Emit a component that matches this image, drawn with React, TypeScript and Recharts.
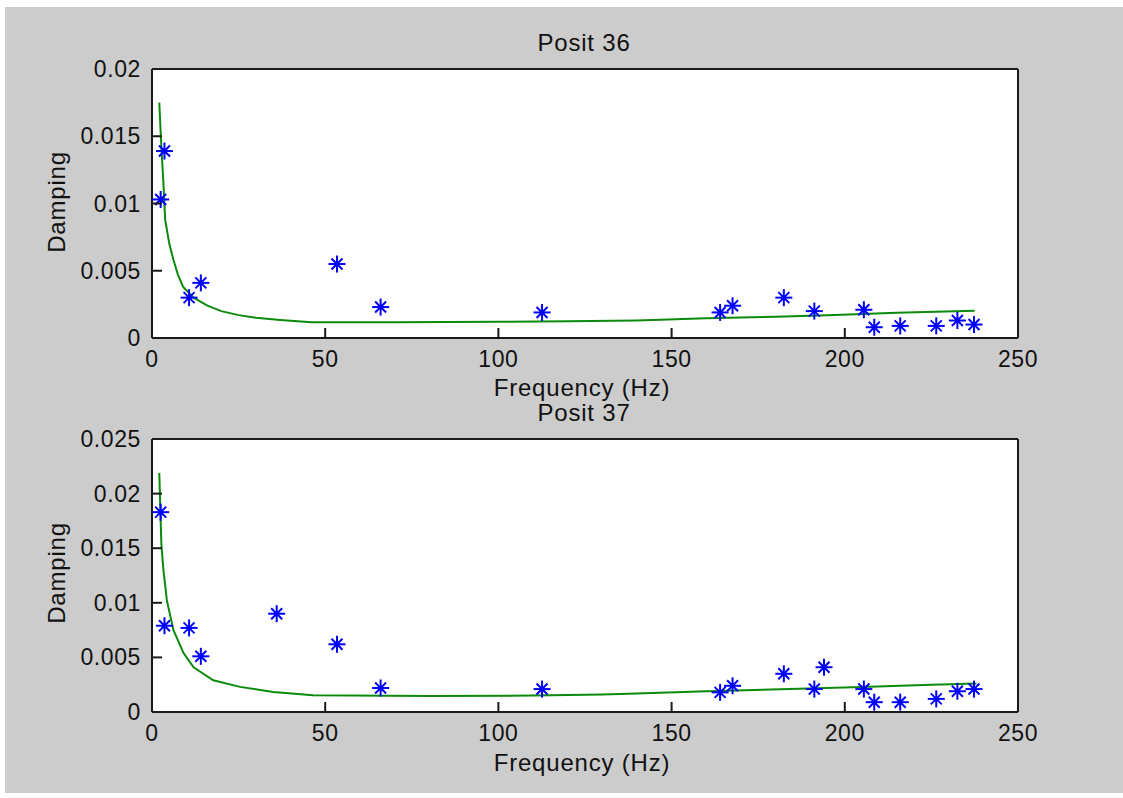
import { CartesianGrid, ComposedChart, Line, Scatter, XAxis, YAxis } from "recharts";

// natural frequencies (Hz) of the identified modes
const FREQ_36 = [2.5, 3.6, 10.7, 14.1, 53.4, 66, 112.6, 164, 167.6, 182.4, 191.2, 205.5, 208.5, 216, 226.4, 232.5, 237.3];
const DAMP_36 = [0.0103, 0.0139, 0.003, 0.0041, 0.0055, 0.0023, 0.0019, 0.0019, 0.0024, 0.003, 0.002, 0.0021, 0.0008, 0.0009, 0.0009, 0.0013, 0.001];

const FREQ_37 = [2.5, 3.6, 10.7, 14.1, 36, 53.4, 66, 112.6, 164, 167.6, 182.4, 191.2, 194, 205.5, 208.5, 216, 226.4, 232.5, 237.3];
const DAMP_37 = [0.0183, 0.0079, 0.0077, 0.0051, 0.009, 0.0062, 0.0022, 0.0021, 0.0018, 0.0024, 0.0035, 0.0021, 0.0041, 0.0021, 0.0009, 0.0009, 0.0012, 0.0019, 0.0021];

// fitted damping curve
const FIT_FREQ_36 = [2.1, 2.7, 3.2, 3.8, 5, 6.2, 7.5, 9, 12, 16, 20, 25, 30, 37, 46, 70, 100, 120, 140, 160, 180, 195, 215, 237.5];
const FIT_DAMP_36 = [0.0175, 0.0142, 0.012, 0.0088, 0.007, 0.0058, 0.0047, 0.0038, 0.003, 0.0024, 0.002, 0.0017, 0.0015, 0.00134, 0.00118, 0.00117, 0.0012, 0.00125, 0.0013, 0.00146, 0.00158, 0.0017, 0.00188, 0.00203];

const FIT_FREQ_37 = [2.1, 2.7, 3.3, 4.3, 6.2, 9.1, 12, 17.7, 25.4, 35, 46.5, 80, 110, 130, 140, 160, 184, 205, 225, 238];
const FIT_DAMP_37 = [0.0219, 0.0154, 0.013, 0.0102, 0.0075, 0.0054, 0.0041, 0.0029, 0.0023, 0.00183, 0.00153, 0.00147, 0.0015, 0.0016, 0.0017, 0.0019, 0.0021, 0.0023, 0.0025, 0.0026];

const X_TICKS = [0, 50, 100, 150, 200, 250];
const Y_TICKS_36 = [0, 0.005, 0.01, 0.015, 0.02];
const Y_TICKS_37 = [0, 0.005, 0.01, 0.015, 0.02, 0.025];

const AXIS = "#1a1a1a";
const FONT = "'Liberation Sans', Arial, sans-serif";
const TICK_LEN = 10;

const zip = (xs: number[], ys: number[]) => xs.map((f, i) => ({ f, d: ys[i] }));

const Star = (props: any) => {
  const { cx, cy } = props;
  if (cx == null || cy == null) return null;
  const a = 8.5;
  const b = 5.5;
  return (
    <g stroke="#0000ff" strokeWidth={2} strokeLinecap="butt">
      <line x1={cx - a} y1={cy} x2={cx + a} y2={cy} />
      <line x1={cx} y1={cy - a} x2={cx} y2={cy + a} />
      <line x1={cx - b} y1={cy - b} x2={cx + b} y2={cy + b} />
      <line x1={cx - b} y1={cy + b} x2={cx + b} y2={cy - b} />
      <circle cx={cx} cy={cy} r={2.5} fill="#0000ff" stroke="none" />
    </g>
  );
};

const textStyle = { fontFamily: FONT, fontSize: 23, fill: "#111", letterSpacing: 0.6 };

const BottomTick = (p: any) => (
  <g>
    <line x1={p.x} y1={p.y} x2={p.x} y2={p.y - TICK_LEN} stroke={AXIS} strokeWidth={2} />
    <text x={p.x} y={p.y + 29} textAnchor="middle" style={textStyle}>
      {p.payload.value}
    </text>
  </g>
);

const TopTick = (p: any) => (
  <line x1={p.x} y1={p.y} x2={p.x} y2={p.y + TICK_LEN} stroke={AXIS} strokeWidth={2} />
);

const LeftTick = (p: any) => (
  <g>
    <line x1={p.x} y1={p.y} x2={p.x + TICK_LEN} y2={p.y} stroke={AXIS} strokeWidth={2} />
    <text x={p.x - 11} y={p.y + 8} textAnchor="end" style={textStyle}>
      {p.payload.value}
    </text>
  </g>
);

const RightTick = (p: any) => (
  <line x1={p.x} y1={p.y} x2={p.x - TICK_LEN} y2={p.y} stroke={AXIS} strokeWidth={2} />
);

interface PanelProps {
  points: { f: number; d: number }[];
  fit: { f: number; d: number }[];
  yTicks: number[];
  height: number;
  top: number;
  bottom: number;
}

function Panel({ points, fit, yTicks, height, top, bottom }: PanelProps) {
  const yMax = yTicks[yTicks.length - 1];
  const axisLine = { stroke: AXIS, strokeWidth: 2 };
  return (
    <ComposedChart
      width={1123}
      height={height}
      margin={{ top: top - 1, bottom: bottom - 1, left: 151, right: 104 }}
    >
      <CartesianGrid fill="#ffffff" horizontal={false} vertical={false} />
      <XAxis
        dataKey="f"
        type="number"
        domain={[0, 250]}
        ticks={X_TICKS}
        interval={0}
        height={1}
        tickSize={0}
        tickMargin={0}
        tickLine={false}
        axisLine={axisLine}
        tick={BottomTick}
      />
      <XAxis
        xAxisId="t"
        dataKey="f"
        orientation="top"
        type="number"
        domain={[0, 250]}
        ticks={X_TICKS}
        interval={0}
        height={1}
        tickSize={0}
        tickMargin={0}
        tickLine={false}
        axisLine={axisLine}
        tick={TopTick}
      />
      <YAxis
        type="number"
        domain={[0, yMax]}
        ticks={yTicks}
        interval={0}
        width={1}
        tickSize={0}
        tickMargin={0}
        tickLine={false}
        axisLine={axisLine}
        tick={LeftTick}
      />
      <YAxis
        yAxisId="r"
        orientation="right"
        type="number"
        domain={[0, yMax]}
        ticks={yTicks}
        interval={0}
        width={1}
        tickSize={0}
        tickMargin={0}
        tickLine={false}
        axisLine={axisLine}
        tick={RightTick}
      />
      <Line
        data={fit}
        dataKey="d"
        type="linear"
        stroke="#0b8a0b"
        strokeWidth={2}
        dot={false}
        isAnimationActive={false}
      />
      <Scatter data={points} dataKey="d" shape={<Star />} isAnimationActive={false} />
    </ComposedChart>
  );
}

export default function App() {
  const label = { fontFamily: FONT, fontSize: 24, fill: "#111", letterSpacing: 0.8 };
  return (
    <div style={{ position: "absolute", left: 0, top: 0, width: 1123, height: 798, background: "#fff" }}>
      <div style={{ position: "absolute", left: 5, top: 7, width: 1118, height: 786, background: "#cccccc" }} />
      <div style={{ position: "absolute", left: 0, top: 0 }}>
        <Panel points={zip(FREQ_36, DAMP_36)} fit={zip(FIT_FREQ_36, FIT_DAMP_36)} yTicks={Y_TICKS_36} height={400} top={69} bottom={62} />
      </div>
      <div style={{ position: "absolute", left: 0, top: 400 }}>
        <Panel points={zip(FREQ_37, DAMP_37)} fit={zip(FIT_FREQ_37, FIT_DAMP_37)} yTicks={Y_TICKS_37} height={398} top={39} bottom={86} />
      </div>
      <svg width={1123} height={798} style={{ position: "absolute", left: 0, top: 0, pointerEvents: "none" }}>
        <text x={584} y={51} textAnchor="middle" style={label}>Posit 36</text>
        <text x={582} y={396} textAnchor="middle" style={label}>Frequency (Hz)</text>
        <text x={65} y={202} textAnchor="middle" transform="rotate(-90 65 202)" style={label}>Damping</text>
        <text x={584} y={421} textAnchor="middle" style={label}>Posit 37</text>
        <text x={582} y={771} textAnchor="middle" style={label}>Frequency (Hz)</text>
        <text x={65} y={573} textAnchor="middle" transform="rotate(-90 65 573)" style={label}>Damping</text>
      </svg>
    </div>
  );
}
